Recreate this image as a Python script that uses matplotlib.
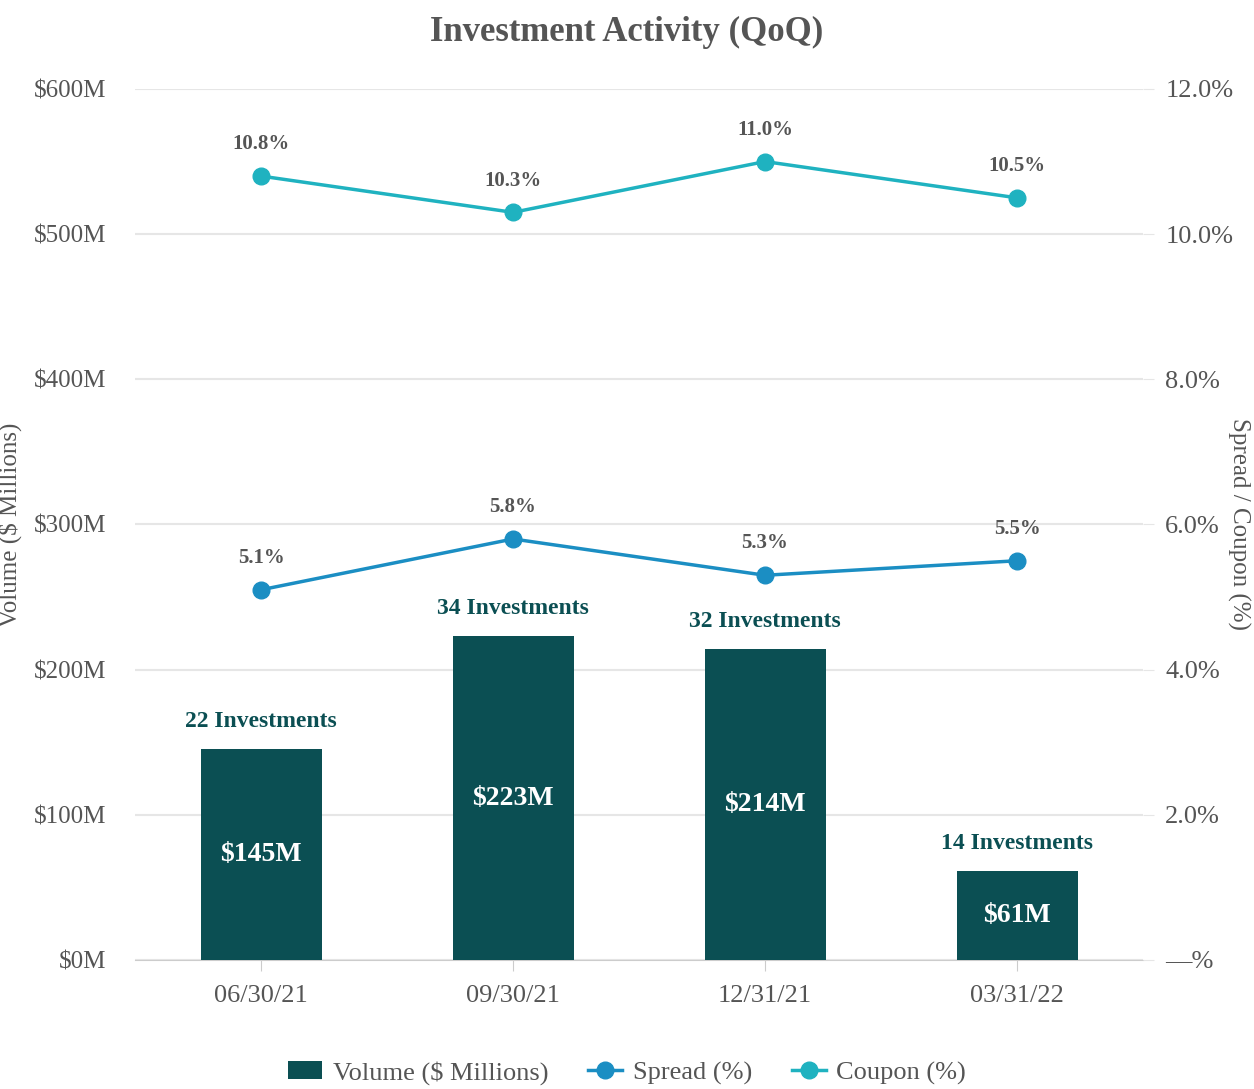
import matplotlib
matplotlib.use("Agg")
import matplotlib.pyplot as plt
from matplotlib.lines import Line2D
from matplotlib.patches import Patch

quarters = ["06/30/21", "09/30/21", "12/31/21", "03/31/22"]
volume = [145, 223, 214, 61]
investments = [22, 34, 32, 14]
spread = [5.1, 5.8, 5.3, 5.5]
coupon = [10.8, 10.3, 11.0, 10.5]
vol_ticks = [0, 100, 200, 300, 400, 500, 600]
pct_ticks = [0, 2, 4, 6, 8, 10, 12]

BAR = "#0b4f53"
SPREAD_C = "#1b8ec3"
COUPON_C = "#1fb2c0"
TXT = "#555555"
FONT = "Liberation Serif"

plt.rcParams["font.family"] = [FONT, "DejaVu Serif"]

fig = plt.figure(figsize=(12.54, 10.89), dpi=100)
ax = fig.add_axes([0.1077, 0.1185, 0.8038, 0.7998])
ax2 = ax.twinx()

x = list(range(len(quarters)))
ax.bar(x, volume, width=0.48, color=BAR, zorder=3)
ax.set_xlim(-0.5, 3.5)
ax.set_ylim(0, 600)
ax.set_yticks(vol_ticks)
ax.set_yticklabels([f"${v}M" for v in vol_ticks], color=TXT, fontsize=18)
ax.set_xticks(x)
ax.set_xticklabels(quarters, color=TXT, fontsize=19)
ax.tick_params(axis="y", length=0, pad=21)
ax.tick_params(axis="x", length=8, color="#cccccc", pad=10)
ax.grid(axis="y", color="#e6e6e6", linewidth=1.5, zorder=0)
for s in ax.spines.values():
    s.set_visible(False)
ax.spines["bottom"].set_visible(True)
ax.spines["bottom"].set_color("#cccccc")
ax.set_ylabel("Volume ($ Millions)", color=TXT, fontsize=18)
ax.yaxis.set_label_coords(-0.112, 0.5)

for i, (v, n) in enumerate(zip(volume, investments)):
    ax.text(i, v / 2, f"${v}M", ha="center", va="center",
            color="white", fontsize=20, fontweight="bold", zorder=4)
    ax.text(i, v + 12, f"{n} Investments", ha="center", va="bottom",
            color=BAR, fontsize=17, fontweight="bold", zorder=4)

ax2.plot(x, spread, color=SPREAD_C, linewidth=2.5, marker="o", markersize=12, zorder=5)
ax2.plot(x, coupon, color=COUPON_C, linewidth=2.5, marker="o", markersize=12, zorder=5)
for i, v in enumerate(spread):
    ax2.text(i, v + 0.3, f"{v:.1f}%", ha="center", va="bottom", color=TXT,
             fontsize=15, fontweight="bold")
for i, v in enumerate(coupon):
    ax2.text(i, v + 0.3, f"{v:.1f}%", ha="center", va="bottom", color=TXT,
             fontsize=15, fontweight="bold")
ax2.set_ylim(0, 12)
ax2.set_yticks(pct_ticks)
ax2.set_yticklabels(["\u2014%" if t == 0 else f"{t:.1f}%" for t in pct_ticks],
                    color=TXT, fontsize=19)
ax2.tick_params(axis="y", length=8, color="#e6e6e6", pad=8)
for s in ax2.spines.values():
    s.set_visible(False)
ax2.set_ylabel("Spread / Coupon (%)", color=TXT, fontsize=18, rotation=270, va="center")
ax2.yaxis.set_label_coords(1.095, 0.5)
ax.set_zorder(1)
ax.patch.set_visible(False)
ax2.set_zorder(2)

fig.suptitle("Investment Activity (QoQ)", x=0.5, y=0.985, color=TXT,
             fontsize=25, fontweight="bold")

handles = [
    Patch(facecolor=BAR, label="Volume ($ Millions)"),
    Line2D([0], [0], color=SPREAD_C, linewidth=2.5, marker="o", markersize=12, label="Spread (%)"),
    Line2D([0], [0], color=COUPON_C, linewidth=2.5, marker="o", markersize=12, label="Coupon (%)"),
]
leg = fig.legend(handles=handles, loc="lower center", bbox_to_anchor=(0.5, -0.018), ncol=3,
                 frameon=False, fontsize=19, handlelength=1.3, columnspacing=1.5,
                 handletextpad=0.4)
for t in leg.get_texts():
    t.set_color(TXT)

fig.savefig("out.png", dpi=100)
